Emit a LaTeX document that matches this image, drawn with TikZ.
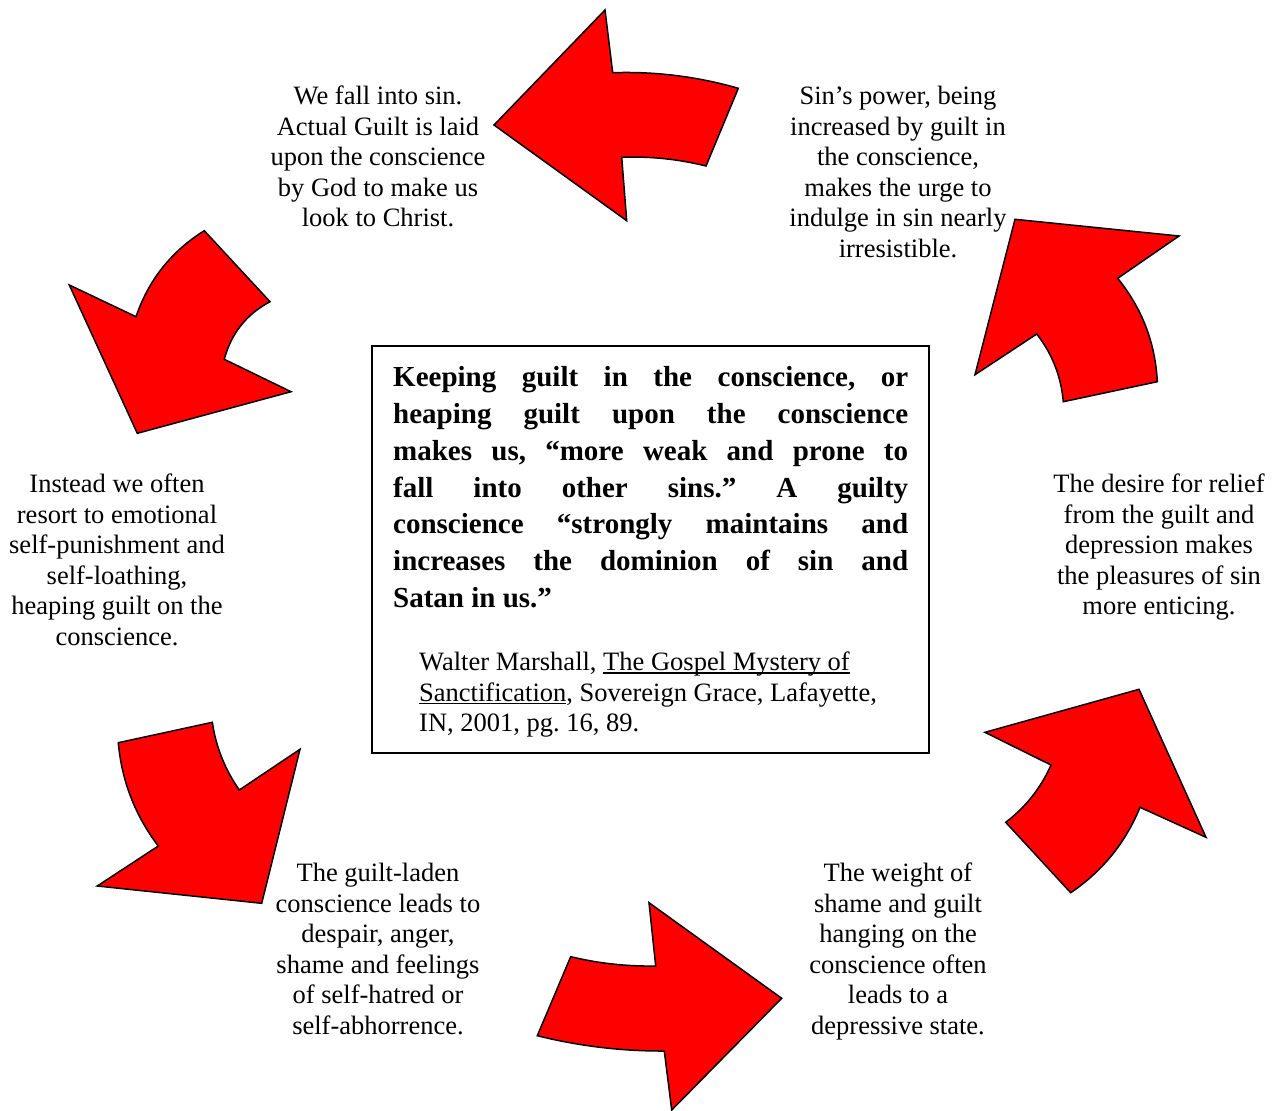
\documentclass[tikz,border=0pt]{standalone}
\usepackage{fontspec}
\setmainfont{Liberation Serif}
\frenchspacing
\newsavebox\ulbox
\newcommand{\myul}[1]{\sbox\ulbox{#1}\rlap{\rule[-3pt]{\wd\ulbox}{1.3pt}}\usebox\ulbox}
\begin{document}
\begin{tikzpicture}[x=1pt,y=-1pt,
  blockarrow/.style={fill=red, draw=black, line width=1.5pt, line join=miter},
  cycletext/.style={font=\fontsize{26.5}{30.5}\selectfont, align=center, inner sep=0pt, anchor=north},
  quotebox/.style={draw=black, line width=1.5pt}]
\useasboundingbox (0,0) rectangle (1275,1111);

% block arrows
\path[blockarrow] (494,125) -- (605,10) -- (612.7,72.7)
  .. controls (655.4,71.3) and (697.2,76.5) .. (738.3,88.3) -- (706,166)
  .. controls (678.3,159.1) and (650.2,156.2) .. (621.7,157.3) -- (626.7,220.7) -- cycle;

\path[blockarrow] (1015,219.3) -- (1179,236) -- (1117.7,278.3)
  .. controls (1142.1,308.5) and (1155.3,342.9) .. (1157.3,381.7) -- (1063.3,401.7)
  .. controls (1061.1,376.5) and (1052.3,354) .. (1036.7,334) -- (975,374.7) -- cycle;

\path[blockarrow] (69.3,285) -- (136,316.7)
  .. controls (148.6,279.9) and (171.3,251.3) .. (204.3,230.7) -- (270,301.7)
  .. controls (246.4,314.3) and (231.1,333.5) .. (224.3,359.3) -- (291,391.7) -- (137.3,433.3) -- cycle;

\path[blockarrow] (118.3,742.7) -- (212.3,722.3)
  .. controls (216,747) and (225,769.5) .. (239.3,790) -- (300,749.3) -- (261.7,903.3) -- (97.3,886) -- (158.3,846)
  .. controls (135.1,815.5) and (121.7,781) .. (118.3,742.7) -- cycle;

\path[blockarrow] (537.3,1035.7) -- (570.7,956.7)
  .. controls (598.6,963.4) and (627,966.5) .. (655.7,966) -- (649,902.7) -- (781.7,998.3) -- (671.7,1110) -- (664.3,1051)
  .. controls (621.4,1051.2) and (579,1046.1) .. (537.3,1035.7) -- cycle;

\path[blockarrow] (985,732.3) -- (1139,689.3) -- (1206,837.3) -- (1140,807.3)
  .. controls (1125.5,842.8) and (1102.4,871.2) .. (1070.7,892.7) -- (1005.7,822.3)
  .. controls (1025.7,807.1) and (1040.8,788) .. (1051,765) -- cycle;

% central box
\draw[quotebox] (372,346) rectangle (929,753);
\node[inner sep=0pt, anchor=north west, align=left, font=\fontsize{29}{36.8}\selectfont\bfseries] (quote) at (393,360.7) {%
\strut\makebox[515pt][s]{Keeping guilt in the conscience, or}\\
\makebox[515pt][s]{heaping guilt upon the conscience}\\
\makebox[515pt][s]{makes us, “more weak and prone to}\\
\makebox[515pt][s]{fall into other sins.” A guilty}\\
\makebox[515pt][s]{conscience “strongly maintains and}\\
\makebox[515pt][s]{increases the dominion of sin and}\\
Satan in us.”};
\node[inner sep=0pt, anchor=north west, align=left, font=\fontsize{26.5}{30.5}\selectfont] (cite) at (419,649.2) {%
\strut Walter Marshall, \myul{The Gospel Mystery of}\\
\myul{Sanctification}, Sovereign Grace, Lafayette,\\
IN, 2001, pg. 16, 89.};

% cycle texts
\node[cycletext] (t1) at (378,83.2) {\strut We fall into sin.\\ Actual Guilt is laid\\ upon the conscience\\ by God to make us\\ look to Christ.};
\node[cycletext] (t2) at (898,83.2) {\strut Sin’s power, being\\ increased by guilt in\\ the conscience,\\ makes the urge to\\ indulge in sin nearly\\ irresistible.};
\node[cycletext] (t3) at (1159,471.2) {\strut The desire for relief\\ from the guilt and\\ depression makes\\ the pleasures of sin\\ more enticing.};
\node[cycletext] (t4) at (898,860.2) {\strut The weight of\\ shame and guilt\\ hanging on the\\ conscience often\\ leads to a\\ depressive state.};
\node[cycletext] (t5) at (378,860.2) {\strut The guilt-laden\\ conscience leads to\\ despair, anger,\\ shame and feelings\\ of self-hatred or\\ self-abhorrence.};
\node[cycletext] (t6) at (117,471.2) {\strut Instead we often\\ resort to emotional\\ self-punishment and\\ self-loathing,\\ heaping guilt on the\\ conscience.};
\end{tikzpicture}
\end{document}
